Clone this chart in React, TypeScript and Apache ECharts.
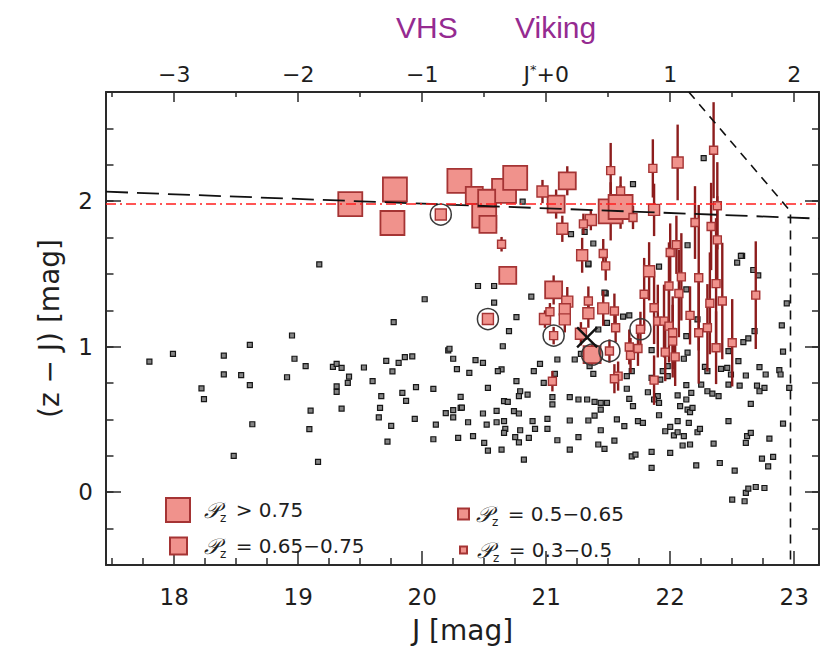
import { useEffect, useRef } from "react";
import * as echarts from "echarts";

// ---------- axes ----------
const J_MIN = 17.45;
const J_MAX = 23.2;
const ZJ_MIN = -0.5;
const ZJ_MAX = 2.75;
const J_STAR = 21.0;

const bottomMajor = [18, 19, 20, 21, 22, 23];
const bottomMinor = [17.5, 17.75, 18.25, 18.5, 18.75, 19.25, 19.5, 19.75, 20.25, 20.5, 20.75, 21.25, 21.5, 21.75, 22.25, 22.5, 22.75];
const topMajor = [-3, -2, -1, 0, 1, 2];
const topMinor = [-3.5, -2.5, -1.5, -0.5, 0.5, 1.5];
const leftMajor = [0, 1, 2];

const surveyTitles = ["VHS", "Viking"];

// ---------- data ----------
// field objects [J, z-J]
const fieldStars = [
  [17.80, 0.897], [17.99, 0.95], [18.22, 0.713], [18.24, 0.64], [18.40, 0.938], [18.40, 0.81], [18.48, 0.25], [18.54, 0.805],
  [18.61, 1.013], [18.61, 0.736], [18.63, 0.467], [18.91, 0.79], [18.95, 1.077], [18.97, 0.917], [19.06, 0.866], [19.10, 0.561],
  [19.09, 0.433], [19.16, 0.209], [19.17, 1.566], [19.28, 0.862], [19.31, 0.882], [19.35, 0.855], [19.31, 0.727], [19.31, 0.69],
  [19.35, 0.575], [19.41, 0.795], [19.40, 0.752], [19.53, 0.857], [19.60, 0.763], [19.67, 0.66], [19.66, 0.58], [19.65, 0.515],
  [19.71, 0.903], [19.76, 0.83], [19.75, 0.456], [19.72, 0.348], [19.77, 1.169], [19.81, 0.889], [19.86, 0.928], [19.92, 0.933],
  [19.84, 0.683], [19.87, 0.628], [19.95, 0.722], [19.94, 0.504], [20.02, 1.326], [20.09, 0.71], [20.09, 0.364], [20.11, 0.465],
  [20.19, 0.543], [20.21, 0.975], [20.22, 0.986], [20.25, 0.917], [20.28, 0.846], [20.25, 0.564], [20.25, 0.515], [20.29, 0.374],
  [20.31, 0.655], [20.31, 0.58],
  [20.45, 1.417], [20.58, 1.417], [20.58, 1.303], [20.88, 1.344], [21.38, 1.709], [21.34, 1.566], [21.48, 1.366], [20.76, 1.203],
  [20.70, 1.107], [20.65, 1.003], [20.43, 0.908], [20.49, 0.889], [20.38, 0.82], [20.53, 0.717], [20.64, 0.844], [20.61, 0.832],
  [20.76, 0.763], [20.90, 0.832], [20.95, 0.882], [20.98, 0.752], [21.09, 0.912], [21.07, 0.813], [21.05, 0.653], [21.05, 0.603],
  [20.32, 0.582], [20.49, 0.541], [20.60, 0.559], [20.66, 0.626], [20.69, 0.621], [20.74, 0.557], [20.78, 0.541], [20.37, 0.481],
  [20.52, 0.465], [20.60, 0.481], [20.66, 0.488], [20.67, 0.435], [20.66, 0.408], [20.79, 0.426], [20.89, 0.488], [20.91, 0.435],
  [21.01, 0.504], [21.01, 0.435], [20.41, 0.385], [20.50, 0.339], [20.53, 0.286], [20.64, 0.293], [20.75, 0.378], [20.78, 0.343],
  [20.86, 0.374], [20.82, 0.224], [21.09, 0.357], [21.19, 0.493], [21.19, 0.293], [21.26, 0.378], [21.34, 0.493], [21.39, 0.621],
  [21.44, 0.614], [21.49, 0.614], [21.44, 0.426], [21.42, 0.328], [21.47, 0.298], [21.55, 0.355], [21.57, 0.5], [21.63, 0.454],
  [21.70, 0.591], [21.74, 0.488], [21.78, 0.477], [21.69, 0.247], [21.72, 0.259], [21.85, 0.277], [21.85, 0.167], [21.90, 0.66],
  [21.91, 0.614], [21.82, 0.687], [21.87, 0.637], [21.91, 0.529], [21.96, 0.419], [22.00, 0.449], [22.03, 0.39], [22.06, 0.412],
  [22.00, 0.27], [22.06, 0.665], [22.08, 0.591], [22.13, 0.637], [22.14, 0.568], [22.15, 0.477], [22.11, 0.385], [22.10, 0.321],
  [22.16, 0.328], [22.13, 0.736], [22.17, 0.683], [22.21, 0.185], [22.22, 0.412], [22.24, 0.435], [22.25, 0.74], [22.30, 0.694],
  [22.34, 0.678], [22.39, 0.66], [22.35, 0.334], [22.40, 0.201], [22.47, 0.488], [22.52, 0.149], [22.56, 0.733], [22.61, 0.339],
  [22.62, 0.385], [22.65, 0.408], [22.65, 0.607], [22.70, 0.733], [22.76, 0.717], [22.72, 0.694], [22.74, 0.231], [22.79, 0.178],
  [22.83, 0.243], [22.80, 0.369], [22.88, 0.839], [22.89, 0.809], [22.91, 0.966], [22.91, 0.472], [22.94, 1.298], [22.90, 1.146],
  [22.96, 0.717], [22.54, 1.578], [22.58, 1.624], [22.67, 1.527], [22.71, 1.49], [21.91, 1.55], [22.14, 1.697], [22.13, 1.394],
  [22.13, 1.073], [22.14, 0.959], [22.11, 0.917], [22.22, 1.188], [22.28, 0.862], [22.30, 0.832], [22.41, 0.848], [22.46, 0.855],
  [22.49, 0.809], [22.47, 0.969], [22.55, 0.901], [22.59, 1.031], [22.63, 1.057], [22.68, 1.107], [22.61, 0.802], [22.72, 0.86],
  [22.77, 0.809], [21.98, 0.866], [21.94, 0.832], [21.98, 0.798], [21.85, 0.786], [21.92, 0.774], [21.69, 0.832], [21.65, 0.798],
  [21.62, 1.206], [21.67, 1.215], [21.49, 1.164], [21.42, 1.118], [21.47, 1.371], [21.23, 0.912], [21.38, 0.813], [21.35, 0.866],
  [21.19, 0.653], [21.26, 0.637], [21.33, 0.637], [21.28, 0.951], [21.85, 0.976],
  [22.50, -0.051], [22.60, -0.062], [22.61, -0.005], [22.63, 0.025], [22.69, 0.036], [22.76, 0.029],
  [20.81, 1.997], [21.70, 2.117], [22.27, 2.295], [21.20, 1.773], [21.31, 1.789], [22.57, 1.624], [21.34, 1.571],
  [20.79, 0.694], [20.78, 0.66], [20.85, 0.671], [21.39, 0.527], [21.44, 0.568], [21.65, 0.711], [21.67, 0.642], [22.06, 0.488],
  [22.16, 0.55], [22.18, 0.58], [22.47, 0.74],
];

// candidates [J, z-J, error]
const candHigh = [
  [19.42, 1.98, 0.03], [19.78, 2.08, 0.03], [19.76, 1.85, 0.03], [20.30, 2.14, 0.03], [20.50, 1.90, 0.05],
  [20.66, 2.07, 0.04], [20.75, 2.16, 0.04], [21.52, 1.93, 0.2], [21.60, 1.96, 0.15],
];
const candMid = [
  [20.42, 2.04, 0.03], [20.52, 2.02, 0.04], [20.53, 1.84, 0.04], [20.69, 1.49, 0.04], [21.17, 2.14, 0.1],
  [21.08, 1.98, 0.1], [21.06, 1.39, 0.1], [21.37, 0.945, 0.07],
];
const candLow = [
  [20.15, 1.908, 0.03], [20.53, 1.19, 0.03], [20.97, 2.066, 0.08], [21.13, 1.81, 0.09], [21.36, 1.87, 0.07],
  [21.29, 1.628, 0.12], [21.87, 1.94, 0.18], [22.06, 2.266, 0.26], [21.83, 1.518, 0.2], [21.17, 1.31, 0.1],
  [21.15, 1.257, 0.09], [21.15, 1.188, 0.09], [20.99, 1.19, 0.06], [21.34, 1.23, 0.1], [21.46, 1.263, 0.12],
  [21.28, 1.089, 0.08],
];
const candFaint = [
  [20.64, 1.704, 0.05], [21.52, 2.21, 0.19], [21.70, 1.888, 0.08], [21.86, 2.225, 0.2], [22.20, 1.853, 0.25],
  [22.35, 2.35, 0.33], [22.38, 1.968, 0.3], [22.33, 1.826, 0.3], [22.38, 1.734, 0.3], [21.30, 1.844, 0.07],
  [21.46, 1.64, 0.1], [22.00, 1.647, 0.2], [22.05, 1.70, 0.2], [21.60, 2.07, 0.1], [21.48, 1.555, 0.1],
  [21.34, 1.314, 0.1], [21.55, 1.245, 0.12], [21.56, 1.13, 0.1], [21.51, 0.97, 0.08], [21.58, 0.798, 0.1],
  [21.55, 0.78, 0.1], [21.05, 0.763, 0.07], [21.06, 1.076, 0.06], [21.03, 1.24, 0.06], [21.67, 0.998, 0.12],
  [21.68, 0.94, 0.12], [21.74, 0.988, 0.12], [21.76, 1.12, 0.12], [21.79, 1.36, 0.25], [21.87, 1.268, 0.25],
  [21.90, 1.176, 0.25], [21.95, 1.176, 0.25], [21.99, 1.417, 0.3], [22.07, 1.365, 0.3], [22.09, 1.48, 0.3],
  [21.99, 1.141, 0.25], [22.02, 1.096, 0.25], [22.02, 1.038, 0.25], [21.96, 0.963, 0.2], [22.04, 0.93, 0.2],
  [21.87, 0.77, 0.17], [22.16, 1.215, 0.2], [22.23, 1.474, 0.5], [22.23, 1.096, 0.35], [22.30, 1.13, 0.3],
  [22.32, 1.298, 0.35], [22.37, 1.433, 0.45], [22.42, 1.314, 0.4], [22.37, 0.993, 0.25], [22.50, 1.027, 0.3],
  [22.69, 1.354, 0.37],
];

const circled = [[20.15, 1.908], [20.53, 1.19], [21.06, 1.076], [21.37, 0.945], [21.51, 0.97], [21.76, 1.12]];
const crossed = [[21.33, 1.064]];

const fitLine = [[17.45, 2.065], [23.2, 1.88]];
const colourCut = [[17.45, 1.98], [23.2, 1.98]];
const depthLimit = [[22.15, 2.75], [22.97, 1.93], [22.97, -0.5]];

const seriesNames = ["Pz>0.75", "Pz0.65-0.75", "Pz0.5-0.65", "Pz0.3-0.5"];
const legendLabels = ["> 0.75", "= 0.65−0.75", "= 0.5−0.65", "= 0.3−0.5"];

const FONT = "DejaVu Sans";
const AX = "#2a2a2a";
const TXT = "#1e1e1e";
const FILL = "#f0928c";
const EDGE = "#a53434";
const BAR = "#8d1d1d";

export default function App() {
  const ref = useRef<HTMLDivElement>(null);
  useEffect(() => {
    document.body.style.margin = "0";
    const chart = echarts.init(ref.current!, null, { renderer: "svg" });

    const allCand = [...candHigh, ...candMid, ...candLow, ...candFaint];
    const sizes = [24, 17, 11, 8];
    const groups = [candHigh, candMid, candLow, candFaint];

    const legendPos = [
      { left: 165, top: 497, w: 24, h: 24, pad: 9 },
      { left: 169, top: 535, w: 17, h: 17, pad: 12 },
      { left: 457, top: 503, w: 11, h: 11, pad: 2 },
      { left: 459, top: 539, w: 7, h: 7, pad: 5 },
    ];

    const lineStyle = { color: AX, width: 1.5 };

    const option: any = {
      animation: false,
      backgroundColor: "#ffffff",
      title: [
        { text: surveyTitles[0], left: 396, top: 12, padding: 0, textStyle: { fontFamily: "Liberation Sans", fontSize: 30, fontWeight: "normal", color: "#952b91" } },
        { text: surveyTitles[1], left: 515, top: 12, padding: 0, textStyle: { fontFamily: "Liberation Sans", fontSize: 30, fontWeight: "normal", color: "#952b91" } },
      ],
      grid: { left: 106, right: 18, top: 92, bottom: 87 },
      legend: legendPos.map((p, i) => ({
        data: [seriesNames[i]],
        left: p.left,
        top: p.top,
        padding: 0,
        itemWidth: p.w,
        itemHeight: p.h,
        icon: "rect",
        selectedMode: false,
        formatter: () => `{p|𝒫}{z|z}{t| ${legendLabels[i]}}`,
        textStyle: {
          fontFamily: FONT,
          color: TXT,
          rich: {
            p: { fontFamily: FONT, fontSize: 22, lineHeight: 28, fontStyle: "italic", color: TXT, padding: [0, 0, 0, p.pad] },
            z: { fontFamily: FONT, fontSize: 12, lineHeight: 12, color: TXT, verticalAlign: "bottom", padding: [0, 3, 0, 0] },
            t: { fontFamily: FONT, fontSize: 20, lineHeight: 28, color: TXT },
          },
        },
      })),
      xAxis: [
        {
          type: "value", min: J_MIN, max: J_MAX, position: "bottom",
          axisLine: { show: true, onZero: false, lineStyle: { color: AX, width: 2 } },
          axisTick: { show: true, inside: true, length: 14, customValues: bottomMajor, lineStyle },
          axisLabel: { customValues: bottomMajor, fontFamily: FONT, fontSize: 23, color: TXT, margin: 20 },
          splitLine: { show: false },
          name: "J [mag]", nameLocation: "middle", nameGap: 51,
          nameTextStyle: { fontFamily: FONT, fontSize: 28, color: TXT },
        },
        {
          type: "value", min: J_MIN, max: J_MAX, position: "bottom",
          axisLine: { show: false, onZero: false },
          axisTick: { show: true, inside: true, length: 7, customValues: bottomMinor, lineStyle },
          axisLabel: { show: false }, splitLine: { show: false },
        },
        {
          type: "value", min: J_MIN - J_STAR, max: J_MAX - J_STAR, position: "top",
          axisLine: { show: true, onZero: false, lineStyle: { color: AX, width: 2 } },
          axisTick: { show: true, inside: true, length: 10, customValues: topMajor, lineStyle },
          axisLabel: {
            customValues: topMajor, fontFamily: FONT, fontSize: 22, color: TXT, margin: 7,
            formatter: (v: number) => (v === 0 ? "{a|J}{s|*}{a|+0}" : v < 0 ? "−" + Math.abs(v) : String(v)),
            rich: {
              a: { fontFamily: FONT, fontSize: 22, color: TXT },
              s: { fontFamily: FONT, fontSize: 13, color: TXT, verticalAlign: "top" },
            },
          },
          splitLine: { show: false },
        },
        {
          type: "value", min: J_MIN - J_STAR, max: J_MAX - J_STAR, position: "top",
          axisLine: { show: false, onZero: false },
          axisTick: { show: true, inside: true, length: 5, customValues: topMinor, lineStyle },
          axisLabel: { show: false }, splitLine: { show: false },
        },
      ],
      yAxis: [
        {
          type: "value", min: ZJ_MIN, max: ZJ_MAX, position: "left",
          axisLine: { show: true, onZero: false, lineStyle: { color: AX, width: 2 } },
          axisTick: { show: true, inside: true, length: 15, customValues: leftMajor, lineStyle },
          axisLabel: { customValues: leftMajor, fontFamily: FONT, fontSize: 23, color: TXT, margin: 13 },
          splitLine: { show: false },
          name: "(z − J) [mag]", nameLocation: "middle", nameGap: 43, nameRotate: 90,
          nameTextStyle: { fontFamily: FONT, fontSize: 28, color: TXT },
        },
        {
          type: "value", min: ZJ_MIN, max: ZJ_MAX, interval: 0.25, position: "left",
          axisLine: { show: false, onZero: false },
          axisTick: { show: true, inside: true, length: 7.5, lineStyle },
          axisLabel: { show: false }, splitLine: { show: false },
        },
        {
          type: "value", min: ZJ_MIN, max: ZJ_MAX, position: "right",
          axisLine: { show: true, onZero: false, lineStyle: { color: AX, width: 2 } },
          axisTick: { show: true, inside: true, length: 14, customValues: leftMajor, lineStyle },
          axisLabel: { show: false }, splitLine: { show: false },
        },
        {
          type: "value", min: ZJ_MIN, max: ZJ_MAX, interval: 0.25, position: "right",
          axisLine: { show: false, onZero: false },
          axisTick: { show: true, inside: true, length: 7, lineStyle },
          axisLabel: { show: false }, splitLine: { show: false },
        },
      ],
      series: [
        {
          type: "scatter", name: "field", data: fieldStars, symbol: "rect", symbolSize: 5,
          itemStyle: { color: "#858585", borderColor: "#161616", borderWidth: 1.2, opacity: 1 },
          z: 2, silent: true,
        },
        {
          type: "custom", name: "errors", data: allCand, z: 3, silent: true,
          encode: { x: 0, y: 1 },
          renderItem: (_p: any, api: any) => {
            const x = api.value(0), y = api.value(1), e = api.value(2);
            const a = api.coord([x, y - e]);
            const b = api.coord([x, y + e]);
            return { type: "line", shape: { x1: a[0], y1: a[1], x2: b[0], y2: b[1] }, style: { stroke: BAR, lineWidth: 2.4 } };
          },
        },
        ...groups.map((g, i) => ({
          type: "scatter", name: seriesNames[i], data: g.map((d) => [d[0], d[1]]),
          symbol: "rect", symbolSize: sizes[i],
          itemStyle: { color: FILL, borderColor: EDGE, borderWidth: i < 2 ? 1.8 : 1.4, opacity: 1 },
          z: 4, silent: true,
        })),
        {
          type: "scatter", name: "circled", data: circled, symbol: "circle", symbolSize: 21,
          itemStyle: { color: "none", borderColor: "#3a3a3a", borderWidth: 1.5, opacity: 1 }, z: 5, silent: true,
        },
        {
          type: "scatter", name: "cross", data: crossed, symbol: "path://M0 0 L10 10 M10 0 L0 10", symbolSize: 20,
          itemStyle: { color: "none", borderColor: "#111", borderWidth: 2.4, opacity: 1 }, z: 5, silent: true,
        },
        {
          type: "line", name: "fit", data: fitLine, symbol: "none", silent: true, z: 6,
          lineStyle: { color: "#111", width: 1.8, type: [22, 9] },
        },
        {
          type: "line", name: "cut", data: colourCut, symbol: "none", silent: true, z: 6,
          lineStyle: { color: "#ff1f1f", width: 1.6, type: [10, 4, 2, 4] },
        },
        {
          type: "line", name: "limit", data: depthLimit, symbol: "none", silent: true, z: 6,
          lineStyle: { color: "#111", width: 1.6, type: [9, 7] },
        },
      ],
    };
    chart.setOption(option);
    return () => chart.dispose();
  }, []);
  return <div ref={ref} style={{ width: 837, height: 652 }} />;
}
